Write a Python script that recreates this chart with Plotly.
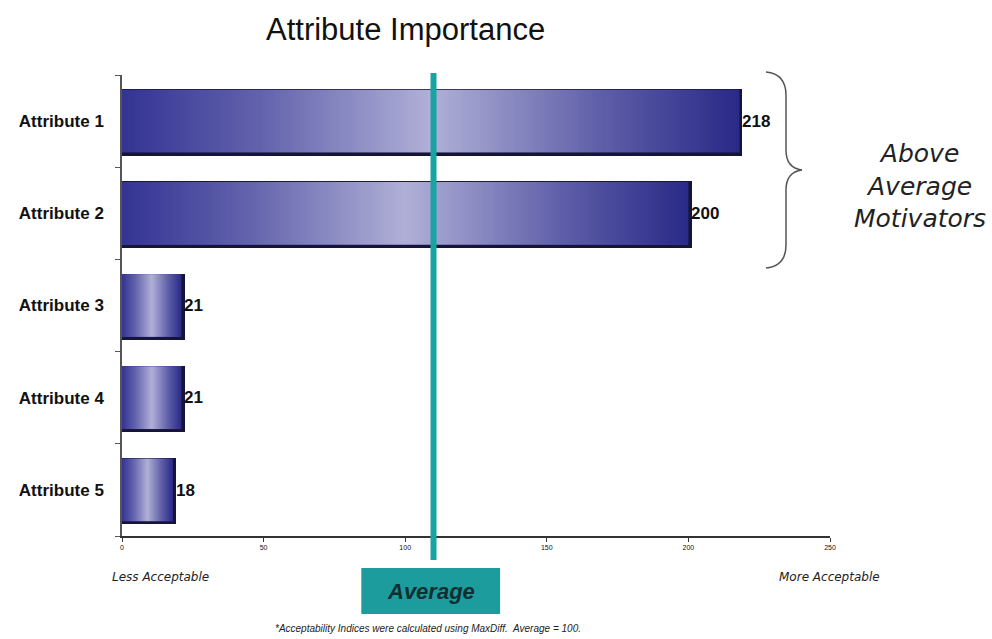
import base64
import struct
import zlib

import plotly.graph_objects as go

# ---- data -------------------------------------------------------------
categories = ["Attribute 1", "Attribute 2", "Attribute 3", "Attribute 4", "Attribute 5"]
importance = [218, 200, 21, 21, 18]
x_ticks = [0, 50, 100, 150, 200, 250]
x_tick_labels = ["0", "50", "100", "150", "200", "250"]
average_marker = 110

FONT = "Arial, Liberation Sans, sans-serif"
WIDE = "DejaVu Sans, Arial, sans-serif"
BAR_W = 0.68
TEAL = "#1aa3a3"

# plot-area geometry (pixels) used to place free-floating decorations
W, H = 992, 639
L, R, T, B = 122, 162, 75, 103
PW, PH = W - L - R, H - T - B


def px(xp):
    return (xp - L) / PW


def py(yp):
    return (H - B - yp) / PH


def gradient_png(stops, n=256):
    """Horizontal 1-pixel-high RGB gradient as a data URI."""
    row = bytearray([0])
    for i in range(n):
        t = i / (n - 1)
        for (t0, c0), (t1, c1) in zip(stops[:-1], stops[1:]):
            if t0 <= t <= t1:
                f = (t - t0) / (t1 - t0)
                row += bytes(int(round(a + (b - a) * f)) for a, b in zip(c0, c1))
                break

    def chunk(tag, data):
        return (struct.pack(">I", len(data)) + tag + data
                + struct.pack(">I", zlib.crc32(tag + data) & 0xFFFFFFFF))

    png = (b"\x89PNG\r\n\x1a\n"
           + chunk(b"IHDR", struct.pack(">IIBBBBB", n, 1, 8, 2, 0, 0, 0))
           + chunk(b"IDAT", zlib.compress(bytes(row)))
           + chunk(b"IEND", b""))
    return "data:image/png;base64," + base64.b64encode(png).decode()


bar_fill = gradient_png([
    (0.00, (52, 52, 148)),
    (0.22, (98, 98, 172)),
    (0.50, (176, 176, 216)),
    (0.78, (94, 94, 168)),
    (1.00, (42, 42, 136)),
])

fig = go.Figure()

# drop shadow behind each bar (shifted a few pixels right and down)
fig.add_trace(go.Bar(
    y=categories, x=[v + 1.1 for v in importance], orientation="h",
    width=BAR_W + 0.04, offset=-BAR_W / 2 - 0.006,
    marker=dict(color="#15153a", line=dict(width=0)),
    hoverinfo="skip", showlegend=False,
))

# the bars themselves, carrying the value labels
fig.add_trace(go.Bar(
    y=categories, x=importance, orientation="h",
    width=BAR_W, offset=-BAR_W / 2,
    marker=dict(color="rgba(60,60,150,1)", line=dict(width=0)),
    text=[f"<b>{v}</b>" for v in importance], textposition="outside",
    textfont=dict(family=FONT, size=17, color="#111111"),
    cliponaxis=False, showlegend=False,
))

# gradient face laid over each bar, stretched to the bar's extent
images = []
for i, v in enumerate(importance):
    images.append(dict(
        source=bar_fill, xref="x", yref="y",
        x=0, y=i, sizex=v, sizey=BAR_W,
        xanchor="left", yanchor="middle",
        sizing="stretch", layer="above",
    ))

shapes = [
    # average marker line
    dict(type="line", xref="x", yref="paper",
         x0=average_marker, x1=average_marker, y0=py(560), y1=py(73),
         line=dict(color=TEAL, width=6), layer="above"),
    # "Average" badge under the marker
    dict(type="rect", xref="x", yref="paper",
         x0=average_marker - 25.5, x1=average_marker + 23.5,
         y0=py(614), y1=py(568),
         fillcolor="#1c9c9c", line=dict(width=0), layer="above"),
    # curly brace grouping the top two attributes
    dict(type="path", xref="paper", yref="paper",
         path=(f"M {px(766)},{py(72)} "
               f"Q {px(786)},{py(74)} {px(786)},{py(95)} "
               f"L {px(786)},{py(150)} "
               f"Q {px(786)},{py(168)} {px(802)},{py(170)} "
               f"Q {px(786)},{py(172)} {px(786)},{py(190)} "
               f"L {px(786)},{py(245)} "
               f"Q {px(786)},{py(266)} {px(766)},{py(268)}"),
         line=dict(color="#555555", width=1.5)),
]


def note(text, x, y, size, xanchor="center", xref="paper", color="#222222", family=FONT):
    return dict(text=text, xref=xref, yref="paper", x=x, y=y,
                xanchor=xanchor, yanchor="middle", showarrow=False,
                align="center", font=dict(family=family, size=size, color=color))


annotations = [
    note("Attribute Importance", px(405), py(29), 31, color="#111111"),
    note("<i>Above<br>Average<br>Motivators</i>", px(920), py(186), 25, family=WIDE),
    note("<i>Less Acceptable</i>", px(110), py(577), 12, xanchor="left", family=WIDE),
    note("<i>More Acceptable</i>", px(882), py(577), 12, xanchor="right", family=WIDE),
    note("<b><i>Average</i></b>", average_marker - 1, py(591), 22,
         xref="x", color="#0f2e33"),
    note("<i>*Acceptability Indices were calculated using MaxDiff.  Average = 100.</i>",
         px(428), py(628), 10),
]

fig.update_layout(
    width=W, height=H,
    margin=dict(l=L, r=R, t=T, b=B, autoexpand=False),
    paper_bgcolor="white", plot_bgcolor="white",
    barmode="overlay", bargap=0,
    font=dict(family=FONT, color="#111111"),
    images=images, shapes=shapes, annotations=annotations,
    showlegend=False,
)

fig.update_xaxes(
    range=[0, 250], tickvals=x_ticks, ticktext=x_tick_labels,
    showgrid=False, zeroline=False,
    showline=True, linecolor="#333333", linewidth=2,
    ticks="outside", ticklen=4, tickcolor="#333333",
    tickfont=dict(family=FONT, size=7, color="#111111"),
)

fig.update_yaxes(
    type="category", categoryorder="array", categoryarray=categories,
    tickvals=categories, ticktext=[f"<b>{c}</b>" for c in categories],
    range=[4.5, -0.5],
    showgrid=False, zeroline=False,
    showline=True, linecolor="#555555", linewidth=1.5,
    ticks="outside", tickson="boundaries", ticklen=5, tickcolor="#555555",
    ticklabelstandoff=13,
    tickfont=dict(family=FONT, size=17, color="#111111"),
)

fig.write_html("out.html")
